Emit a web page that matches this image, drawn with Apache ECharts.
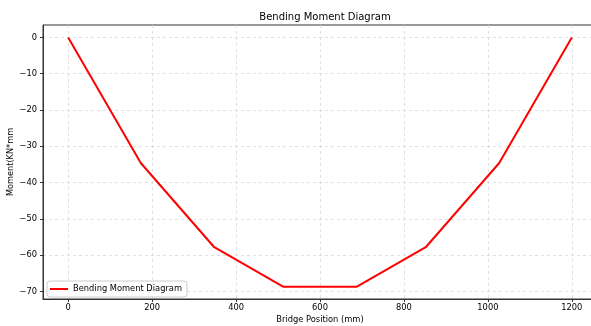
<!DOCTYPE html>
<html>
<head>
<meta charset="utf-8">
<script src="https://cdn.jsdelivr.net/npm/echarts@6/dist/echarts.min.js"></script>
<style>
  html, body { margin: 0; padding: 0; background: #fff; }
  #chart { width: 591px; height: 326px; }
</style>
</head>
<body>
<div id="chart"></div>
<script>
// positions along the bridge (mm) and bending moment values
const positions = [0, 173, 347, 512, 688, 853, 1027, 1200];
const moments = [0, -34.6, -57.7, -68.7, -68.7, -57.7, -34.6, 0];
const xTicks = [0, 200, 400, 600, 800, 1000, 1200];
const yTicks = [-70, -60, -50, -40, -30, -20, -10, 0];

const chart = echarts.init(document.getElementById("chart"));

const gridLine = { show: true, lineStyle: { color: "#d9d9d9", type: [3, 3], width: 0.8 } };
const font = "DejaVu Sans";
const fmt = v => String(v).replace("-", "\u2212");

const option = {
  animation: false,
  title: {
    text: "Bending Moment Diagram",
    left: 320,
    textAlign: "center",
    top: 7,
    textStyle: { fontFamily: font, fontSize: 10, fontWeight: "normal", color: "#000" }
  },
  grid: {
    left: 43,
    right: -6,
    top: 25,
    bottom: 27,
    outerBoundsMode: "none",
    containLabel: false,
    show: true,
    borderColor: "#333",
    borderWidth: 1
  },
  legend: {
    left: 47,
    bottom: 29,
    orient: "vertical",
    data: ["Bending Moment Diagram"],
    itemWidth: 18,
    itemHeight: 2,
    itemGap: 5,
    icon: "rect",
    padding: [4, 5, 4, 3],
    borderColor: "#ccc",
    borderWidth: 1,
    borderRadius: 3,
    backgroundColor: "rgba(255,255,255,0.8)",
    textStyle: { fontFamily: font, fontSize: 8.3, color: "#000" }
  },
  xAxis: {
    type: "value",
    min: -60,
    max: 1260,
    name: "Bridge Position (mm)",
    nameLocation: "middle",
    nameMoveOverlap: false,
    nameGap: 17,
    nameTextStyle: { fontFamily: font, fontSize: 8.3, color: "#000" },
    axisLine: { show: true, onZero: false, lineStyle: { color: "#333" } },
    axisTick: { show: true, length: 3, customValues: xTicks, lineStyle: { color: "#333" } },
    axisLabel: { customValues: xTicks, formatter: fmt, fontFamily: font, fontSize: 8.3, color: "#000", margin: 5 },
    splitLine: gridLine
  },
  yAxis: {
    type: "value",
    min: -72.1,
    max: 3.44,
    name: "Moment(KN*mm",
    nameLocation: "middle",
    nameMoveOverlap: false,
    nameGap: 28,
    nameTextStyle: { fontFamily: font, fontSize: 8.2, color: "#000" },
    axisLine: { show: true, onZero: false, lineStyle: { color: "#333" } },
    axisTick: { show: true, length: 3, customValues: yTicks, lineStyle: { color: "#333" } },
    axisLabel: { customValues: yTicks, formatter: fmt, fontFamily: font, fontSize: 8.3, color: "#000", margin: 6 },
    splitLine: gridLine
  },
  series: [
    {
      name: "Bending Moment Diagram",
      type: "line",
      data: positions.map((p, i) => [p, moments[i]]),
      showSymbol: false,
      symbol: "none",
      lineStyle: { color: "#ff0000", width: 2 },
      itemStyle: { color: "#ff0000" }
    }
  ]
};

chart.setOption(option);
window.addEventListener("resize", function() {
  chart.resize();
});
</script>
</body>
</html>
